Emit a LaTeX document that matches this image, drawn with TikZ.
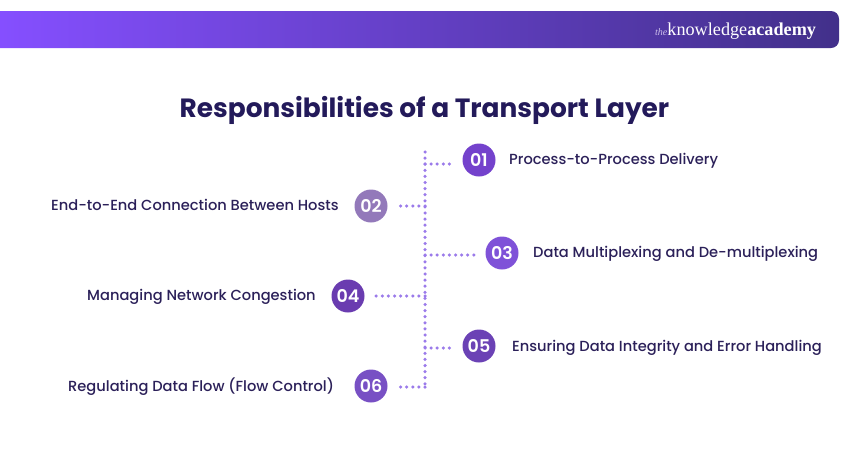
\documentclass[tikz,border=0pt]{standalone}
\usepackage{fontspec}
\setmainfont{Poppins}
\newfontfamily\labfont{Poppins Medium}
\newfontfamily\badgefont{Poppins SemiBold}
\newfontfamily\logofont{Liberation Serif}
\definecolor{ink}{HTML}{2B2059}
\definecolor{titleink}{HTML}{231A5A}
\definecolor{dotc}{HTML}{9B7BEA}
\definecolor{barL}{RGB}{133,79,255}
\definecolor{barR}{RGB}{66,48,138}
\definecolor{logothe}{RGB}{205,190,235}
\definecolor{cA}{RGB}{116,66,204}
\definecolor{cB}{RGB}{147,121,186}
\definecolor{cC}{RGB}{127,82,216}
\definecolor{cD}{RGB}{106,60,176}
\definecolor{cE}{RGB}{107,66,181}
\definecolor{cF}{RGB}{120,80,196}
\tikzset{
  x=1pt,y=-1pt,
  badge/.style={circle,minimum size=33pt,inner sep=0pt,text=white,font=\badgefont\fontsize{17.5}{17.5}\selectfont},
  lab/.style={anchor=base west,inner sep=0pt,text=ink,font=\labfont\fontsize{14.65}{14.65}\selectfont},
  dotline/.style={draw=dotc,line width=3.5pt,line cap=round,dash pattern=on 0pt off 6.1pt},
}
\begin{document}
\begin{tikzpicture}
\useasboundingbox (0,0) rectangle (850,450);
\shade[left color=barL,right color=barR]
  (0,11) [rounded corners=8pt] -- (839,11) -- (839,48) [sharp corners] -- (0,48) -- cycle;
\node[anchor=base west,inner sep=0pt,text=white,font=\logofont\fontsize{18.2}{18.2}\selectfont] (logo) at (655,35.5)
  {{\itshape\fontsize{10}{10}\selectfont\color{logothe}the}knowledge\textbf{academy}};
\node[anchor=base,inner sep=0pt,text=titleink,font=\fontsize{26.4}{26.4}\selectfont\bfseries] (title) at (424.5,117) {Responsibilities of a Transport Layer};

\coordinate (top) at (425,152);
\coordinate (bot) at (425,387);
\coordinate (j1) at (425,164);
\coordinate (j2) at (425,206);
\coordinate (j3) at (425,255);
\coordinate (j4) at (425,296);
\coordinate (j5) at (425,348);
\coordinate (f1) at (450,164);
\coordinate (f2) at (399,206);
\coordinate (f3) at (474,255);
\coordinate (f4) at (375,296);
\coordinate (f5) at (450,348);
\coordinate (f6) at (399,387);
\draw[dotline] (top) -- (bot);
\draw[dotline] (j1) -- (f1);
\draw[dotline] (j2) -- (f2);
\draw[dotline] (j3) -- (f3);
\draw[dotline] (j4) -- (f4);
\draw[dotline] (j5) -- (f5);
\draw[dotline] (bot) -- (f6);

\node[badge,fill=cA] (n1) at (479,160) {01};
\node[badge,fill=cB] (n2) at (371,206) {02};
\node[badge,fill=cC] (n3) at (502,253) {03};
\node[badge,fill=cD] (n4) at (348,296) {04};
\node[badge,fill=cE] (n5) at (479,346) {05};
\node[badge,fill=cF] (n6) at (371,386) {06};

\node[lab] (t1) at (509,164) {Process-to-Process Delivery};
\node[lab] (t2) at (51,210) {End-to-End Connection Between Hosts};
\node[lab] (t3) at (533,257) {Data Multiplexing and De-multiplexing};
\node[lab] (t4) at (87,300) {Managing Network Congestion};
\node[lab] (t5) at (512,351) {Ensuring Data Integrity and Error Handling};
\node[lab] (t6) at (68,391) {Regulating Data Flow (Flow Control)};
\end{tikzpicture}
\end{document}
